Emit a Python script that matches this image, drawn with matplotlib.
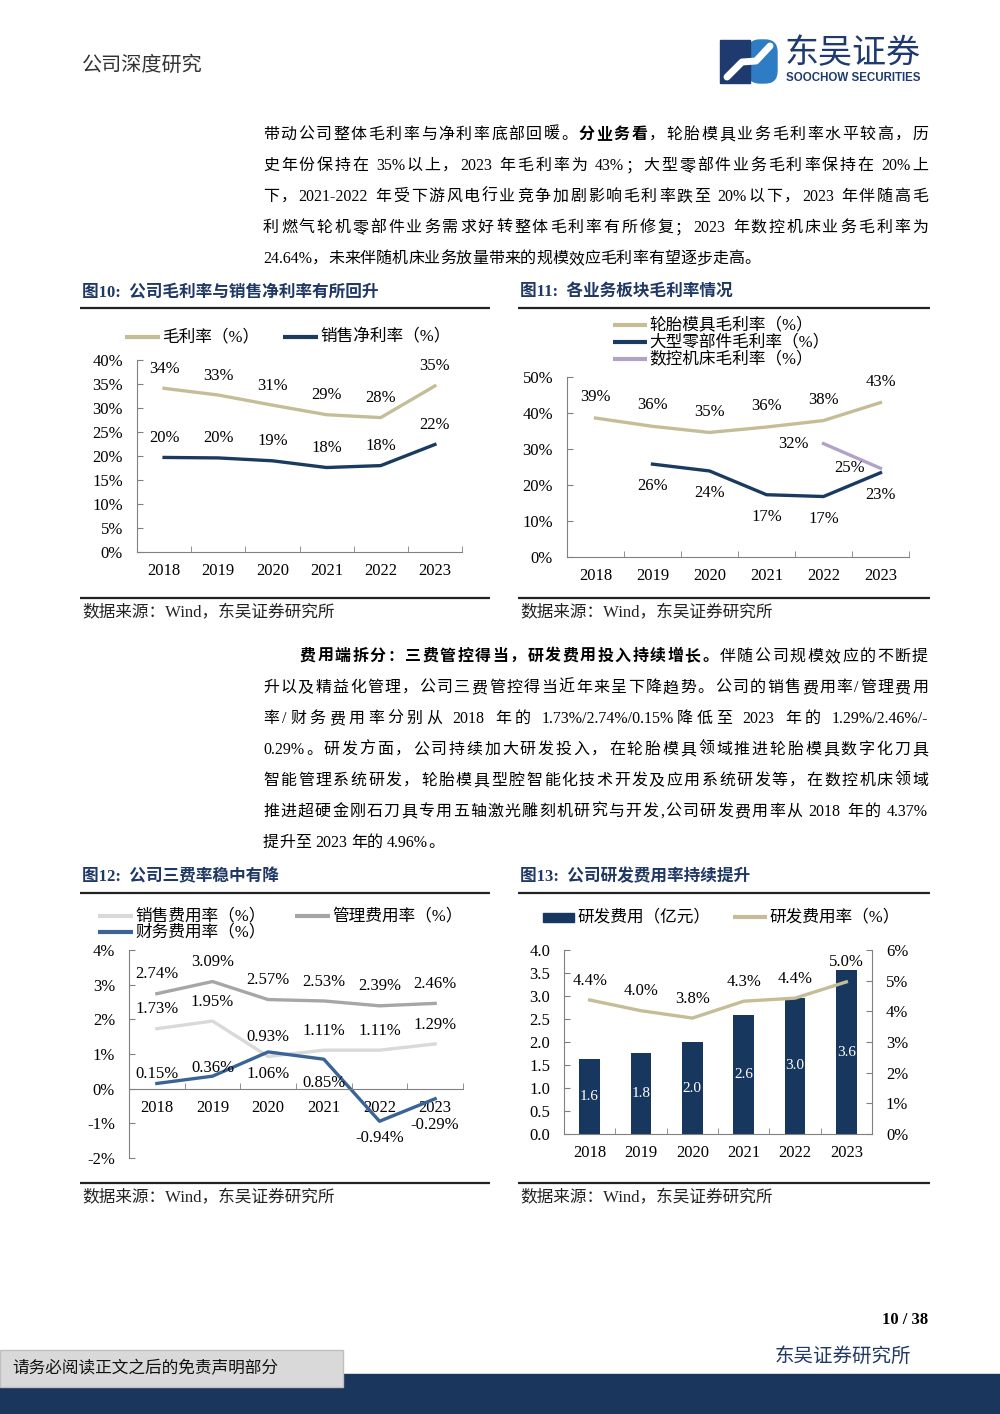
import re
import numpy as np
import matplotlib
matplotlib.use('Agg')
import matplotlib.pyplot as plt
from matplotlib.lines import Line2D
from matplotlib.patches import Rectangle, FancyBboxPatch

W, H = 1000, 1414
SERIF = ['Liberation Serif', 'Noto Sans CJK SC']
CJK = ['Noto Sans CJK SC', 'DejaVu Sans']
plt.rcParams['font.family'] = SERIF
plt.rcParams['axes.unicode_minus'] = False

# ---- data -------------------------------------------------------------
years = ['2018', '2019', '2020', '2021', '2022', '2023']

# fig 10
gross_margin = [34.1, 32.7, 30.6, 28.6, 28.0, 34.6]
net_margin = [19.7, 19.6, 19.0, 17.6, 18.0, 22.4]

# fig 11
mold_margin = [38.6, 36.3, 34.6, 36.1, 37.9, 42.9]
parts_margin = [np.nan, 25.8, 23.9, 17.3, 16.8, 23.4]
cnc_margin = [np.nan, np.nan, np.nan, np.nan, 31.5, 24.64]

# fig 12
sales_rate = [1.73, 1.95, 0.93, 1.11, 1.11, 1.29]
admin_rate = [2.74, 3.09, 2.57, 2.53, 2.39, 2.46]
fin_rate = [0.15, 0.36, 1.06, 0.85, -0.94, -0.29]

# fig 13
rd_expense = [1.62, 1.76, 1.99, 2.58, 2.96, 3.56]
rd_rate = [4.37, 4.02, 3.78, 4.33, 4.43, 4.96]

para1 = [
    [('带动公司整体毛利率与净利率底部回暖。', 'normal'), ('分业务看', 'bold'),
     ('，轮胎模具业务毛利率水平较高，历', 'normal')],
    [('史年份保持在 35%以上，2023 年毛利率为 43%；大型零部件业务毛利率保持在 20%上', 'normal')],
    [('下，2021-2022 年受下游风电行业竞争加剧影响毛利率跌至 20%以下，2023 年伴随高毛', 'normal')],
    [('利燃气轮机零部件业务需求好转整体毛利率有所修复；2023 年数控机床业务毛利率为', 'normal')],
    [('24.64%，未来伴随机床业务放量带来的规模效应毛利率有望逐步走高。', 'normal')],
]
para2 = [
    [('费用端拆分：三费管控得当，研发费用投入持续增长。', 'bold'), ('伴随公司规模效应的不断提', 'normal')],
    [('升以及精益化管理，公司三费管控得当近年来呈下降趋势。公司的销售费用率/管理费用', 'normal')],
    [('率/财务费用率分别从 2018 年的 1.73%/2.74%/0.15%降低至 2023 年的 1.29%/2.46%/-', 'normal')],
    [('0.29%。研发方面，公司持续加大研发投入，在轮胎模具领域推进轮胎模具数字化刀具', 'normal')],
    [('智能管理系统研发，轮胎模具型腔智能化技术开发及应用系统研发等，在数控机床领域', 'normal')],
    [('推进超硬金刚石刀具专用五轴激光雕刻机研究与开发,公司研发费用率从 2018 年的 4.37%', 'normal')],
    [('提升至 2023 年的 4.96%。', 'normal')],
]

# ---- colours ----------------------------------------------------------
TAN = '#C4BD97'
NAVY = '#1B3A60'
LAVENDER = '#B3A2C7'
LGRAY = '#D9D9D9'
MGRAY = '#A6A6A6'
STEEL = '#3A6496'
BAR = '#17375E'
TITLE = '#1F3864'
SPINE = '#808080'

fig = plt.figure(figsize=(W / 100, H / 100), dpi=100)
renderer = fig.canvas.get_renderer()


def fx(x):
    return x / W


def fy(y):
    return 1 - y / H


def add_ax(x0, y0, x1, y1):
    return fig.add_axes([fx(x0), fy(y1), (x1 - x0) / W, (y1 - y0) / H])


def ftext(x, y, s, **kw):
    kw.setdefault('va', 'center')
    return fig.text(fx(x), fy(y), s, **kw)


def hline(x0, x1, y, lw, color):
    fig.add_artist(Line2D([fx(x0), fx(x1)], [fy(y), fy(y)], lw=lw, color=color,
                          solid_capstyle='butt'))


def body_line(x0, x1, y, segs, size=11.5, justify=True):
    items = []
    for s, weight in segs:
        for t in re.findall(r'[A-Za-z0-9.%/\-]+| +|.', s):
            if t.isspace():
                items.append((None, 4))
                continue
            txt = fig.text(0, fy(y), t, fontsize=size, fontweight=weight,
                           va='center', family=SERIF)
            items.append((txt, txt.get_window_extent(renderer).width))
    total = sum(w for _, w in items)
    extra = (x1 - x0 - total) / (len(items) - 1) if justify else 0
    x = x0
    for txt, w in items:
        if txt is not None:
            txt.set_x(fx(x))
        x += w + extra


def legend_line(x0, x1, y, color, label):
    fig.add_artist(Line2D([fx(x0), fx(x1)], [fy(y), fy(y)], lw=3, color=color,
                          solid_capstyle='butt'))
    ftext(x1 + 2, y, label, fontsize=12)


def style_axes(ax):
    for s in ['top', 'right']:
        ax.spines[s].set_visible(False)
    for s in ['left', 'bottom']:
        ax.spines[s].set_color(SPINE)
    n = len(years)
    ax.set_xlim(-0.5, n - 0.5)
    ax.set_xticks(range(n))
    ax.set_xticklabels(years)
    ax.set_xticks(np.arange(-0.5, n), minor=True)
    ax.tick_params(axis='x', which='major', length=0, pad=8, labelsize=12)
    ax.tick_params(axis='x', which='minor', direction='in', length=4, color=SPINE)
    ax.tick_params(axis='y', direction='in', length=4, color=SPINE, pad=10, labelsize=12)


def chart_frame(x0, x1, y_title, title, y_bottom):
    ftext(x0 + 2, y_title, title, fontsize=12, fontweight='bold', color=TITLE)
    hline(x0, x1, y_title + 16, 1.6, '#222222')
    hline(x0, x1, y_bottom, 1.6, '#222222')
    ftext(x0 + 2, y_bottom + 15, '数据来源：Wind，东吴证券研究所', fontsize=12, color='#222222')


# ---- page header ------------------------------------------------------
ftext(82, 65, '公司深度研究', fontsize=14.5, family=CJK, color='#333333')

lg = add_ax(718, 38, 780, 86)
lg.set_xlim(718, 780)
lg.set_ylim(86, 38)
lg.axis('off')
lg.add_patch(FancyBboxPatch((748, 40), 29, 43, boxstyle='round,pad=0,rounding_size=12',
                            color='#2E7CC4'))
lg.add_patch(Rectangle((720, 40), 30, 43, color='#1F3A6E'))
lg.plot([727, 742, 756, 770], [77, 62, 61, 46], color='white', lw=5,
        solid_capstyle='round')
ftext(785, 54, '东吴证券', fontsize=24.5, family=CJK, color='#1F3A6E')
ftext(786, 78, 'SOOCHOW SECURITIES', fontsize=8.3, family='Liberation Sans',
      fontweight='bold', color='#1F3A6E')

# ---- paragraphs -------------------------------------------------------
for i, segs in enumerate(para1):
    body_line(263, 928, 135 + i * 31, segs, justify=i < len(para1) - 1)
for i, segs in enumerate(para2):
    body_line(300 if i == 0 else 263, 928, 657 + i * 31, segs,
              justify=i < len(para2) - 1)

# ---- fig 10 -----------------------------------------------------------
chart_frame(80, 490, 292, '图10:  公司毛利率与销售净利率有所回升', 598)
legend_line(125, 160, 337, TAN, '毛利率（%）')
legend_line(283, 318, 337, NAVY, '销售净利率（%）')
ax = add_ax(137, 360, 462, 552)
style_axes(ax)
ax.set_ylim(0, 40)
ax.set_yticks(range(0, 41, 5))
ax.set_yticklabels([f'{v}%' for v in range(0, 41, 5)])
x = np.arange(len(years))
ax.plot(x, gross_margin, color=TAN, lw=2.4)
ax.plot(x, net_margin, color=NAVY, lw=2.4)
for i in x:
    for series in (gross_margin, net_margin):
        ax.annotate(f'{series[i]:.0f}%', (i, series[i]), xytext=(0, 14),
                    textcoords='offset points', ha='center', va='center', fontsize=12)

# ---- fig 11 -----------------------------------------------------------
chart_frame(518, 930, 292, '图11:  各业务板块毛利率情况', 598)
legend_line(613, 647, 325, TAN, '轮胎模具毛利率（%）')
legend_line(613, 647, 342, NAVY, '大型零部件毛利率（%）')
legend_line(613, 647, 359, LAVENDER, '数控机床毛利率（%）')
ax = add_ax(567, 377, 909, 557)
style_axes(ax)
ax.set_ylim(0, 50)
ax.set_yticks(range(0, 51, 10))
ax.set_yticklabels([f'{v}%' for v in range(0, 51, 10)])
ax.plot(x, mold_margin, color=TAN, lw=2.4)
ax.plot(x, parts_margin, color=NAVY, lw=2.4)
ax.plot(x, cnc_margin, color=LAVENDER, lw=2.4)
for i in x:
    ax.annotate(f'{mold_margin[i]:.0f}%', (i, mold_margin[i]), xytext=(0, 15),
                textcoords='offset points', ha='center', va='center', fontsize=12)
    if not np.isnan(parts_margin[i]):
        ax.annotate(f'{parts_margin[i]:.0f}%', (i, parts_margin[i]), xytext=(0, -16),
                    textcoords='offset points', ha='center', va='center', fontsize=12)
    if not np.isnan(cnc_margin[i]):
        ax.annotate(f'{cnc_margin[i]:.0f}%', (i, cnc_margin[i]), xytext=(-22, 0),
                    textcoords='offset points', ha='center', va='center', fontsize=12)

# ---- fig 12 -----------------------------------------------------------
chart_frame(80, 490, 877, '图12:  公司三费率稳中有降', 1183)
legend_line(98, 133, 916, LGRAY, '销售费用率（%）')
legend_line(295, 330, 916, MGRAY, '管理费用率（%）')
legend_line(98, 133, 932, STEEL, '财务费用率（%）')
ax = add_ax(129, 950, 463, 1158)
style_axes(ax)
ax.set_ylim(-2, 4)
ax.spines['bottom'].set_position(('data', 0))
ax.set_yticks(range(-2, 5))
ax.set_yticklabels([f'{v}%' for v in range(-2, 5)])
ax.plot(x, sales_rate, color=LGRAY, lw=2.4)
ax.plot(x, admin_rate, color=MGRAY, lw=2.4)
ax.plot(x, fin_rate, color=STEEL, lw=2.4)
fin_off = [7, 6, -16, -17, -12, -19]
for i in x:
    ax.annotate(f'{admin_rate[i]:.2f}%', (i, admin_rate[i]), xytext=(0, 14),
                textcoords='offset points', ha='center', va='center', fontsize=12)
    ax.annotate(f'{sales_rate[i]:.2f}%', (i, sales_rate[i]), xytext=(0, 14),
                textcoords='offset points', ha='center', va='center', fontsize=12)
    ax.annotate(f'{fin_rate[i]:.2f}%', (i, fin_rate[i]), xytext=(0, fin_off[i]),
                textcoords='offset points', ha='center', va='center', fontsize=12)

# ---- fig 13 -----------------------------------------------------------
chart_frame(518, 930, 877, '图13:  公司研发费用率持续提升', 1183)
fig.add_artist(Rectangle((fx(543), fy(922)), 31 / W, 9 / H, color=BAR))
ftext(577, 917, '研发费用（亿元）', fontsize=12)
legend_line(733, 767, 917, TAN, '研发费用率（%）')
ax = add_ax(564, 950, 872, 1134)
style_axes(ax)
ax.set_ylim(0, 4)
ax.set_yticks(np.arange(0, 4.01, 0.5))
ax.set_yticklabels([f'{v:.1f}' for v in np.arange(0, 4.01, 0.5)])
bars = ax.bar(x, rd_expense, width=0.4, color=BAR)
ax.bar_label(bars, fmt='%.1f', label_type='center', color='white', fontsize=11)
ax2 = ax.twinx()
for s in ['top', 'left', 'bottom']:
    ax2.spines[s].set_visible(False)
ax2.spines['right'].set_color(SPINE)
ax2.set_ylim(0, 6)
ax2.set_yticks(range(0, 7))
ax2.set_yticklabels([f'{v}%' for v in range(0, 7)])
ax2.tick_params(axis='y', direction='in', length=4, color=SPINE, pad=10, labelsize=12)
ax2.plot(x, rd_rate, color=TAN, lw=2.4)
for i in x:
    ax2.annotate(f'{rd_rate[i]:.1f}%', (i, rd_rate[i]), xytext=(0, 14),
                 textcoords='offset points', ha='center', va='center', fontsize=12)

# ---- footer -----------------------------------------------------------
ftext(928, 1320, '10 / 38', fontsize=12, fontweight='bold', ha='right')
ftext(775, 1356, '东吴证券研究所', fontsize=14, family=CJK, color='#1F3864')
fig.add_artist(Rectangle((0, 0), 1, fy(1374), color='#1B365D'))
fig.add_artist(Rectangle((0, fy(1387)), 343 / W, 37 / H, facecolor='#D9D9D9',
                         edgecolor='#BFBFBF', lw=1))
ftext(12, 1369, '请务必阅读正文之后的免责声明部分', fontsize=12, family=CJK, color='#111111')

fig.savefig('out.png', dpi=100)
